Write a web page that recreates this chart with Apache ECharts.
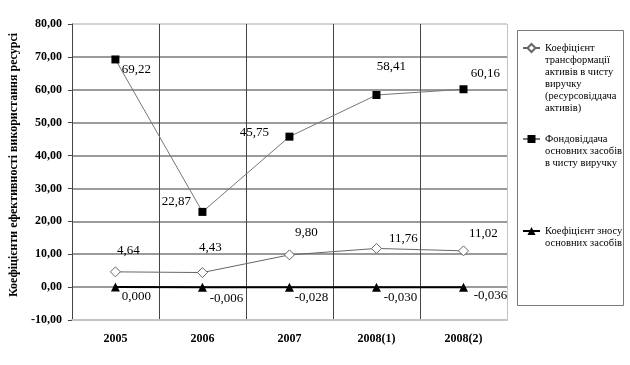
<!DOCTYPE html>
<html>
<head>
<meta charset="utf-8">
<script src="https://cdn.jsdelivr.net/npm/echarts@6/dist/echarts.min.js"></script>
<style>html,body{margin:0;padding:0;background:#fff}#c{width:630px;height:365px}</style>
</head>
<body>
<div id="c"></div>
<script>
const categories = ['2005', '2006', '2007', '2008(1)', '2008(2)'];
const assetTurnover = [4.64, 4.43, 9.80, 11.76, 11.02];
const fixedAssetReturn = [69.22, 22.87, 45.75, 58.41, 60.16];
const depreciationRate = [0.000, -0.006, -0.028, -0.030, -0.036];
const yTicks = { min: -10, max: 80, interval: 10 };

const seriesNames = [
  'Коефіцієнт трансформації активів в чисту виручку (ресурсовіддача активів)',
  'Фондовіддача основних засобів в чисту виручку',
  'Коефіцієнт зносу основних засобів'
];
const legendLines = [
  ['Коефіцієнт', 'трансформації', 'активів в чисту', 'виручку', '(ресурсовіддача', 'активів)'],
  ['Фондовіддача', 'основних засобів', 'в чисту виручку'],
  ['Коефіцієнт зносу', 'основних засобів']
];
const yAxisName = 'Коефіцієнти ефективності використання ресурсі';

// label offsets (style), relative to each point
const offs1 = [[13, -21], [8, -25], [17, -22], [27, -10], [20, -17]];
const offs2 = [[21, 10], [-26, -10], [-35, -4], [15, -28], [22, -16]];
const offs3 = [[21, 9], [24, 11], [22, 10], [24, 10], [27, 8]];

const serif = 'Liberation Serif';
const fmt = (v, d) => v.toFixed(d).replace('.', ',');

function withLabels(values, offs, dec) {
  return values.map((v, i) => ({
    value: v,
    label: { show: true, position: 'inside', offset: offs[i], formatter: () => fmt(v, dec) }
  }));
}

const labelStyle = { fontFamily: serif, fontSize: 13, color: '#000' };
const LH = 12;

const legends = [-18, 109, 213].map((top, k) => ({
  orient: 'vertical',
  left: 522,
  top: top,
  padding: 0,
  itemWidth: 17,
  itemHeight: 10,
  itemGap: 0,
  data: [seriesNames[k]],
  selectedMode: false,
  formatter: () => '\n'.repeat(legendLines[k].length - 1) + legendLines[k].join('\n'),
  textStyle: { fontFamily: serif, fontSize: 10.5, color: '#000', lineHeight: LH, padding: 0 }
}));

const hGrid = ['#c4c4c4', '#7a7a7a', '#7a7a7a', '#7a7a7a', '#7a7a7a', '#7a7a7a', '#7a7a7a', '#7a7a7a', '#7a7a7a', '#c4c4c4'];
const vGrid = ['#444', '#444', '#444', '#444', '#444', '#c4c4c4'];

const option = {
  animation: false,
  backgroundColor: '#fff',
  grid: { left: 70, right: 123, top: 24, bottom: 45, containLabel: false },
  legend: legends,
  graphic: [{
    type: 'rect',
    shape: { x: 517.5, y: 30.5, width: 106, height: 275 },
    style: { fill: 'none', stroke: '#7a7a7a', lineWidth: 1 },
    silent: true
  }],
  xAxis: {
    type: 'category',
    data: categories,
    boundaryGap: true,
    axisLine: { onZero: false, lineStyle: { color: '#c4c4c4', width: 2 } },
    axisTick: { show: false },
    axisLabel: { fontFamily: serif, fontSize: 12, fontWeight: 'bold', color: '#000', margin: 13 },
    splitLine: { show: true, lineStyle: { color: vGrid, width: 1 } }
  },
  yAxis: {
    type: 'value',
    min: yTicks.min,
    max: yTicks.max,
    interval: yTicks.interval,
    name: yAxisName,
    nameLocation: 'middle',
    nameGap: 47,
    nameRotate: 90,
    nameTextStyle: { fontFamily: serif, fontSize: 12, fontWeight: 'bold', color: '#000', padding: [0, 0, 0, 14] },
    axisLine: { show: true, lineStyle: { color: '#444', width: 1 } },
    axisTick: { show: true, length: 4, lineStyle: { color: '#444' } },
    axisLabel: { fontFamily: serif, fontSize: 12, fontWeight: 'bold', color: '#000', margin: 10, formatter: v => fmt(v, 2) },
    splitLine: { show: true, lineStyle: { color: hGrid, width: 1.6 } }
  },
  series: [
    {
      name: seriesNames[0], type: 'line',
      data: withLabels(assetTurnover, offs1, 2),
      symbol: 'diamond', symbolSize: 10,
      lineStyle: { color: '#666', width: 1 },
      itemStyle: { color: '#fff', borderColor: '#666', borderWidth: 1 },
      label: labelStyle, z: 3
    },
    {
      name: seriesNames[1], type: 'line',
      data: withLabels(fixedAssetReturn, offs2, 2),
      symbol: 'rect', symbolSize: 8,
      lineStyle: { color: '#777', width: 1 },
      itemStyle: { color: '#000', borderColor: '#000', borderWidth: 0 },
      label: labelStyle, z: 3
    },
    {
      name: seriesNames[2], type: 'line',
      data: withLabels(depreciationRate, offs3, 3),
      symbol: 'triangle', symbolSize: 9,
      lineStyle: { color: '#000', width: 2 },
      itemStyle: { color: '#000' },
      label: labelStyle, z: 4
    }
  ]
};

const chart = echarts.init(document.getElementById('c'), null, { renderer: 'canvas' });
chart.setOption(option);
</script>
</body>
</html>
